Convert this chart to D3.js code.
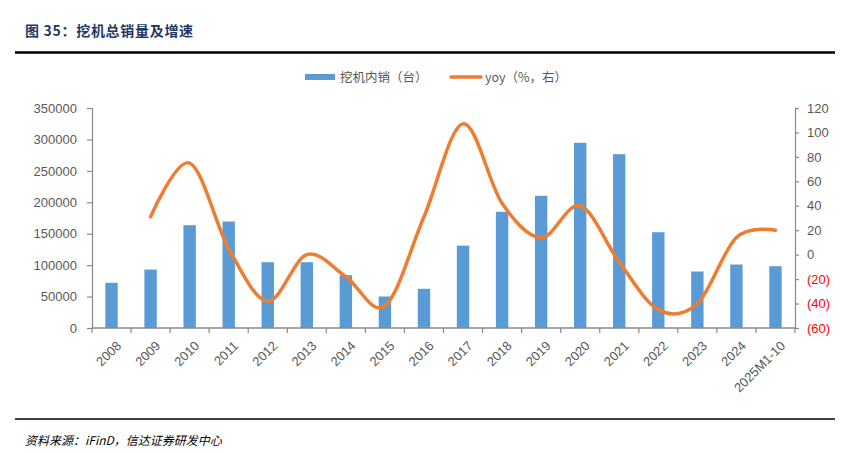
<!DOCTYPE html>
<html><head><meta charset="utf-8">
<script src="https://cdn.jsdelivr.net/npm/d3@7"></script>
<style>
body{margin:0;background:#fff;}
svg{display:block;}
</style></head>
<body>
<svg id="chart" width="849" height="453"></svg>
<script>
const categories = ["2008","2009","2010","2011","2012","2013","2014","2015","2016","2017","2018","2019","2020","2021","2022","2023","2024","2025M1-10"];
const sales = [71900,93000,163500,169400,104700,104700,84000,50100,62400,131000,184900,210300,294600,276500,152400,89900,101000,98300];
const yoy = [null,31,75,5,-38,0,-18,-42,31,107,42,14,40,-6,-45,-40,14,20];
const leftTicks = [0,50000,100000,150000,200000,250000,300000,350000];
const rightTicks = [-60,-40,-20,0,20,40,60,80,100,120];
const seriesNames = ["挖机内销（台）","yoy（%，右）"];
const titleText = "图 35：挖机总销量及增速";
const sourceText = "资料来源：iFinD，信达证券研发中心";

const svg = d3.select("#chart");
const font = "'Liberation Sans', Arial, 'Noto Sans CJK SC', sans-serif";
const axisColor = "#898989", textColor = "#595959";
const m = {left:92, right:795, top:108, bottom:328};

// title
svg.append("text").attr("x",25).attr("y",36).attr("font-family","'Noto Sans CJK SC', sans-serif")
  .attr("font-weight","bold").attr("font-size",14).attr("letter-spacing",0.7).attr("fill","#1F3864").text(titleText);
svg.append("line").attr("x1",15).attr("x2",835).attr("y1",52.5).attr("y2",52.5).attr("stroke","#000").attr("stroke-width",2.5);
svg.append("line").attr("x1",15).attr("x2",835).attr("y1",419).attr("y2",419).attr("stroke","#000").attr("stroke-width",1.5);
svg.append("text").attr("x",25).attr("y",445).attr("font-family","'Noto Sans CJK SC', sans-serif")
  .attr("font-style","italic").attr("font-size",12).attr("fill","#000").text(sourceText);

const xb = d3.scaleBand().domain(categories).range([m.left,m.right]);
const yL = d3.scaleLinear().domain([0,350000]).range([m.bottom,m.top]);
const yR = d3.scaleLinear().domain([-60,120]).range([m.bottom,m.top]);

// bars
svg.append("g").selectAll("rect").data(categories).join("rect")
  .attr("x",d=>xb(d)+xb.bandwidth()/2-6.2).attr("width",12.4)
  .attr("y",(d,i)=>yL(sales[i])).attr("height",(d,i)=>m.bottom-yL(sales[i]))
  .attr("fill","#5B9BD5");

// left axis
const gL = svg.append("g").attr("transform",`translate(${m.left},0)`)
  .call(d3.axisLeft(yL).tickValues(leftTicks).tickSize(5).tickPadding(10).tickFormat(d=>String(d)));
// right axis
const gR = svg.append("g").attr("transform",`translate(${m.right},0)`)
  .call(d3.axisRight(yR).tickValues(rightTicks).tickSize(4).tickPadding(8).tickFormat(d=>d<0?`(${-d})`:String(d)));
[gL,gR].forEach(g=>{
  g.select(".domain").attr("stroke",axisColor).attr("stroke-width",1.2);
  g.selectAll(".tick line").attr("stroke",axisColor).attr("stroke-width",1.2);
  g.selectAll(".tick text").attr("font-family",font).attr("font-size",13).attr("fill",textColor);
});
gR.selectAll(".tick text").attr("fill",d=>d<0?"#FF0000":textColor);

// x axis
const gX = svg.append("g").attr("transform",`translate(0,${m.bottom})`);
gX.append("line").attr("x1",m.left).attr("x2",m.right).attr("stroke",axisColor).attr("stroke-width",1.5);
gX.selectAll("line.t").data(d3.range(categories.length+1)).join("line").attr("class","t")
  .attr("x1",i=>m.left+i*xb.step()).attr("x2",i=>m.left+i*xb.step()).attr("y1",0).attr("y2",5)
  .attr("stroke",axisColor).attr("stroke-width",1.2);
gX.selectAll("text").data(categories).join("text")
  .attr("transform",d=>`translate(${xb(d)+xb.bandwidth()/2+4},${12}) rotate(-45)`)
  .attr("text-anchor","end").attr("dy","0.71em")
  .attr("font-family",font).attr("font-size",13).attr("fill",textColor).text(d=>d);

// line
const pts = categories.map((c,i)=>({c,v:yoy[i]})).filter(d=>d.v!==null);
const line = d3.line().x(d=>xb(d.c)+xb.bandwidth()/2).y(d=>yR(d.v)).curve(d3.curveCatmullRom.alpha(0));
svg.append("path").datum(pts).attr("d",line).attr("fill","none").attr("stroke","#ED7D31")
  .attr("stroke-width",3.5).attr("stroke-linecap","round");

// legend
const lg = svg.append("g");
lg.append("rect").attr("x",305).attr("y",74).attr("width",30).attr("height",6).attr("fill","#5B9BD5");
lg.append("text").attr("x",340).attr("y",82).attr("font-family","'Noto Sans CJK SC', sans-serif").attr("font-size",12.5).attr("fill",textColor).text(seriesNames[0]);
lg.append("line").attr("x1",451).attr("x2",481).attr("y1",77).attr("y2",77).attr("stroke","#ED7D31").attr("stroke-width",3.5).attr("stroke-linecap","round");
lg.append("text").attr("x",485).attr("y",82).attr("font-family","'Noto Sans CJK SC', sans-serif").attr("font-size",12.5).attr("fill",textColor).text(seriesNames[1]);
</script>
</body></html>
